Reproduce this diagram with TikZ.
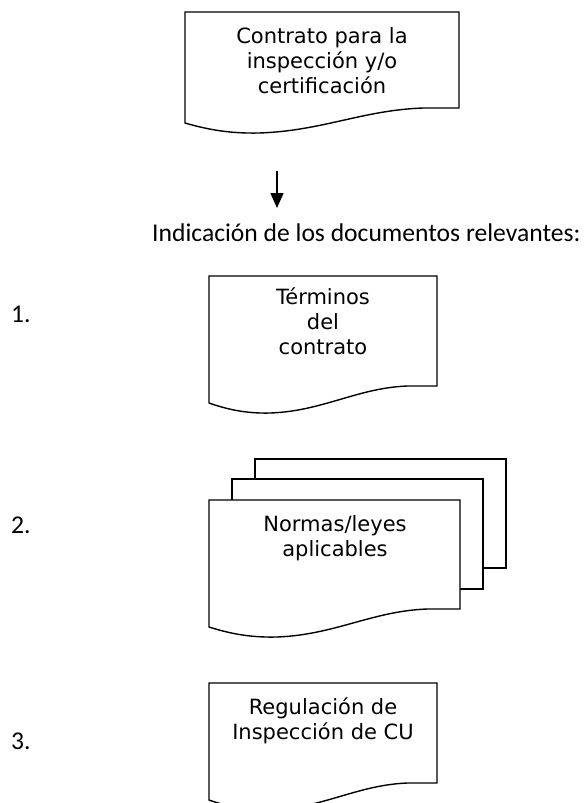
\documentclass[tikz,border=0pt]{standalone}
\usepackage{fontspec}
\setmainfont{DejaVu Sans}
\newfontfamily\calibfont{Carlito}
\usetikzlibrary{arrows.meta}
% L, T, R, left-bottom y, right-bottom y
\newcommand\docwavepath[5]{%
  \draw[docline] (#1,#2) -- (#3,#2) -- (#3,#5)
    -- ({#1+0.87*(#3-#1)},#5)
    .. controls ({#1+0.65*(#3-#1)},{#5+2}) and ({#1+0.5*(#3-#1)},{#4+8}) .. ({#1+0.27*(#3-#1)},{#4+10})
    .. controls ({#1+0.18*(#3-#1)},{#4+10.5}) and ({#1+0.1*(#3-#1)},{#4+8}) .. (#1,#4) -- cycle;}
\tikzset{
  docline/.style={draw=black, line width=1.4pt, fill=white, line join=miter},
  doctext/.style={font=\fontsize{21}{25}\selectfont, align=center, inner sep=0pt, text=black},
  bigtext/.style={font=\calibfont\fontsize{25.6}{30}\selectfont, inner sep=0pt, text=black},
  flowarrow/.style={line width=1.5pt, -{Triangle[width=13pt,length=15pt]}}
}
\begin{document}
\begin{tikzpicture}[x=1pt, y=-1pt]
\useasboundingbox[fill=white] (0,0) rectangle (586,803);
% document 1
\docwavepath{185}{12}{459}{123}{108}
\node[doctext] (contrato) at (322,63) {\strut Contrato para la\\inspección y/o\\certificación\strut};
% arrow
\coordinate (arrS) at (277,171);
\coordinate (arrE) at (277,208);
\draw[flowarrow] (arrS) -- (arrE);
\node[bigtext, anchor=west] (indic) at (152,233) {Indicación de los documentos relevantes:};
% 1
\node[bigtext, anchor=west] (n1) at (11,314) {1.};
\docwavepath{209}{276}{437}{403}{386}
\node[doctext] (terminos) at (323,324) {\strut Términos\\del\\contrato\strut};
% 2
\node[bigtext, anchor=west] (n2) at (11,525) {2.};
\draw[docline] (255,459) rectangle (506,568);
\draw[docline] (232,479) rectangle (483,589);
\docwavepath{209}{500}{460}{627}{609}
\node[doctext] (normas) at (335,539) {\strut Normas/leyes\\aplicables\strut};
% 3
\node[bigtext, anchor=west] (n3) at (11,741) {3.};
\docwavepath{209}{683}{437}{800}{783}
\node[doctext] (regulacion) at (323,722) {\strut Regulación de\\Inspección de CU\strut};
\end{tikzpicture}
\end{document}
